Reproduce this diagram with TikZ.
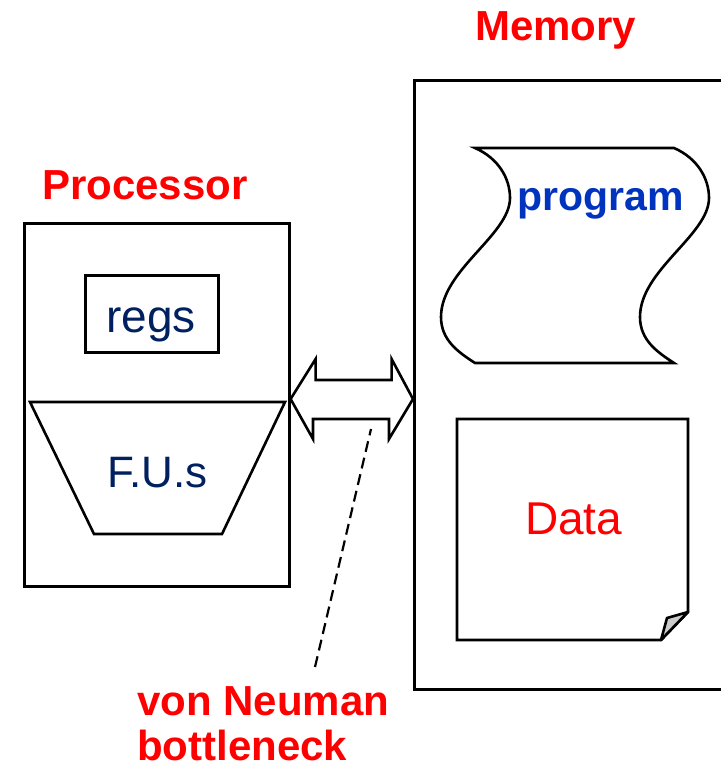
\documentclass[tikz,border=0pt]{standalone}
\usepackage{fontspec}
\setmainfont{Liberation Sans}
\definecolor{lblred}{RGB}{255,0,0}
\definecolor{progblue}{RGB}{0,51,190}
\definecolor{navytext}{RGB}{0,32,96}
\definecolor{foldgray}{RGB}{204,204,204}
\tikzset{
  outline/.style={draw=black,line width=2.6pt},
  txt/.style={inner sep=0pt,anchor=base west},
  bigred/.style={txt,text=lblred,font=\fontsize{42}{45}\selectfont\bfseries},
}
\begin{document}
\begin{tikzpicture}[x=1pt,y=-1pt]
\useasboundingbox[fill=white] (0,0) rectangle (720,768);
% boxes
\node[outline,rectangle,inner sep=0pt,minimum width=265pt,minimum height=363pt,anchor=north west] (proc) at (23,222) {};
\node[outline,rectangle,inner sep=0pt,minimum width=312pt,minimum height=609pt,anchor=north west] (mem) at (413,79) {};
\node[outline,rectangle,inner sep=0pt,minimum width=133pt,minimum height=77pt,anchor=north west] (regsbox) at (84,274) {};
% F.U. trapezoid
\draw[outline,line join=miter] (30,402) -- (285,402) -- (222,534) -- (94,534) -- cycle;
% program shape
\draw[outline,fill=white] (475,148) -- (674,148)
  .. controls (697,158) and (709,178) .. (709,198)
  .. controls (709,235) and (640,270) .. (640,317)
  .. controls (640,340) and (657,352) .. (674,363)
  -- (475,363)
  .. controls (458,352) and (441,340) .. (441,317)
  .. controls (441,270) and (510,235) .. (510,198)
  .. controls (510,178) and (498,158) .. (475,148) -- cycle;
% data page
\draw[outline,fill=white,line join=miter] (457,419) -- (688,419) -- (688,612) -- (661,640) -- (457,640) -- cycle;
\draw[outline,fill=foldgray,line join=round] (661,640) -- (667,618) -- (688,612) -- cycle;
% texts
\node[bigred] (memlbl) at (475,41) {Memory};
\node[bigred] (proclbl) at (42,199) {Processor};
\node[txt,text=progblue,font=\fontsize{41}{44}\selectfont\bfseries] (prog) at (517,210) {program};
\node[txt,text=navytext,font=\fontsize{46}{48}\selectfont] (regs) at (106,332) {regs};
\node[txt,text=navytext,font=\fontsize{44}{48}\selectfont] (fus) at (107,487) {F.U.s};
\node[txt,text=lblred,font=\fontsize{46}{48}\selectfont] (data) at (525,534) {Data};
\node[bigred] (vn) at (137,715) {von Neuman};
\node[bigred] (vnb) at (137,760) {bottleneck};
% double arrow between processor and memory
\coordinate (tl) at (proc.east |- 0,399);
\coordinate (tr) at (mem.west |- 0,399);
\draw[outline,fill=white,line join=miter] (tl) -- ++(25,-40) -- ++(0,21) -- ++(76,0) -- ++(0,-21)
  -- (tr) -- ++(-24,40) -- ++(0,-20) -- ++(-76,0) -- ++(0,20) -- cycle;
% bottleneck pointer
\coordinate (bneck) at (371,429);
\coordinate (vntop) at (315,667);
\draw[line width=2.2pt,dash pattern=on 11pt off 6pt] (vntop) -- (bneck);
\end{tikzpicture}
\end{document}
